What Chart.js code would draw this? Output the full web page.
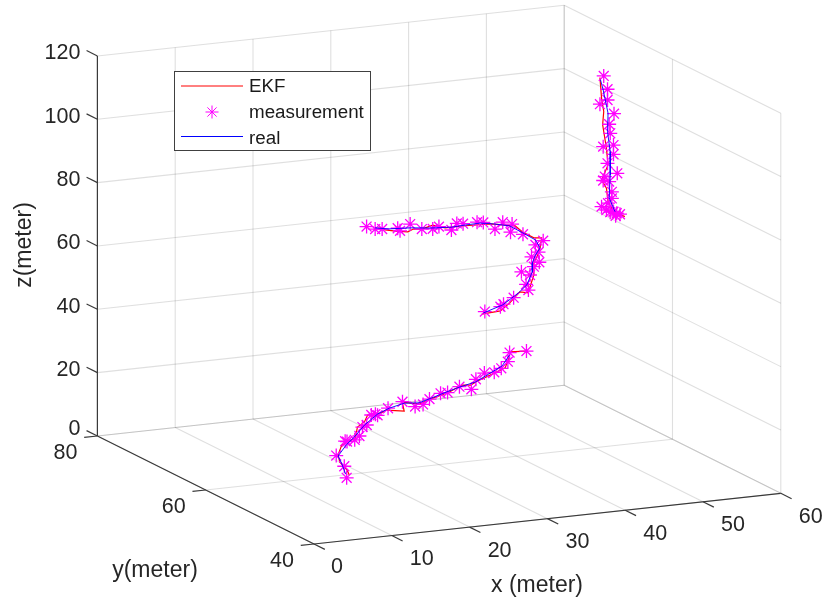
<!DOCTYPE html>
<html>
<head>
<meta charset="utf-8">
<title>EKF</title>
<style>
    html, body { margin: 0; padding: 0; background: #fff; }
    #wrap { width: 826px; height: 602px; }
    canvas { display: block; }
</style>
<script src="https://cdn.jsdelivr.net/npm/chart.js"></script>
</head>
<body>
<div id="wrap"><canvas id="myChart" width="826" height="602"></canvas></div>
<script>
const xTicks = [0, 10, 20, 30, 40, 50, 60];
const yTicks = [40, 60, 80];
const zTicks = [0, 20, 40, 60, 80, 100, 120];

// lower track, flat at one height
const lowerZ = 15;
const lowerStarX = [7.4, 9.6, 11.0, 15.0, 15.1, 16.3, 17.6, 19.8, 20.7, 23.3, 23.9, 23.9, 26.5, 29.4, 29.7, 31.0, 32.8, 35.2, 36.1, 38.6, 39.3, 41.9, 44.1, 45.3, 46.9, 49.0, 51.1, 53.2];
const lowerStarY = [44.6, 48.2, 51.7, 55.8, 55.6, 55.9, 56.9, 59.5, 60.0, 62.9, 63.0, 62.6, 64.4, 65.9, 64.0, 64.4, 65.8, 67.2, 67.2, 68.6, 67.4, 70.3, 71.9, 71.8, 72.8, 74.6, 77.3, 77.2];
const lowerRealX = [8.1, 10.0, 11.1, 14.3, 16.9, 20.5, 24.2, 26.7, 29.3, 30.9, 33.3, 36.1, 38.6, 41.3, 44.4, 47.5, 50.6];
const lowerRealY = [45.8, 49.3, 51.5, 54.6, 56.8, 60.1, 63.0, 64.4, 65.4, 65.0, 66.1, 67.4, 68.5, 69.5, 71.5, 73.5, 76.6];
const lowerEkfX = [8.3, 9.1, 10.0, 11.3, 13.8, 16.7, 19.3, 21.1, 22.9, 24.8, 25.9, 27.6, 29.3, 30.7, 33.4, 36.4, 39.2, 40.1, 41.7, 45.6, 47.4, 49.9, 51.3, 53.2];
const lowerEkfY = [45.4, 47.0, 49.6, 51.8, 54.7, 56.4, 59.7, 61.0, 63.0, 63.2, 63.9, 63.0, 65.8, 64.6, 66.0, 67.3, 69.0, 68.7, 69.7, 71.8, 72.8, 75.7, 77.5, 77.2];

// middle track, on the back wall
const middleY = 80;
const middleStarX = [34.6, 35.7, 36.6, 38.6, 38.9, 40.2, 41.7, 43.1, 43.9, 45.5, 46.2, 47.0, 48.8, 49.6, 51.1, 52.1, 53.3, 53.1, 54.7, 57.3, 56.3, 56.7, 55.8, 56.8, 56.1, 54.5, 55.6, 55.1, 55.4, 53.5, 52.2, 51.8, 49.8];
const middleStarZ = [56.9, 55.8, 55.6, 55.3, 54.4, 56.2, 54.2, 53.9, 54.4, 52.9, 54.8, 54.5, 54.5, 54.2, 51.7, 53.6, 52.7, 50.2, 49.1, 46.4, 45.3, 42.9, 41.7, 39.7, 38.5, 37.3, 36.0, 33.2, 31.3, 29.4, 27.7, 27.0, 26.0];
const middleRealX = [35.7, 37.4, 40.2, 43.0, 45.6, 47.3, 49.2, 50.9, 53.0, 54.7, 56.3, 56.9, 56.3, 55.9, 55.9, 55.2, 54.1, 52.1, 49.6];
const middleRealZ = [56.2, 55.4, 55.0, 54.2, 53.8, 54.0, 54.1, 53.4, 52.2, 49.5, 46.9, 44.2, 42.1, 39.7, 36.9, 33.0, 30.7, 27.5, 25.6];
const middleEkfX = [36.1, 37.0, 38.3, 39.9, 40.6, 41.7, 43.1, 44.7, 46.9, 50.5, 53.7, 54.6, 56.1, 57.1, 56.9, 56.5, 56.0, 56.1, 55.6, 55.4, 54.3, 53.0, 51.8, 49.4];
const middleEkfZ = [56.1, 55.2, 54.5, 53.8, 54.5, 54.2, 55.1, 53.8, 53.8, 53.5, 52.0, 49.9, 47.6, 47.3, 44.2, 41.5, 39.7, 35.9, 32.2, 30.4, 31.0, 27.9, 25.7, 25.3];

// right track, on the side wall
const rightX = 60;
const rightStarY = [72.7, 72.0, 72.0, 73.4, 70.8, 71.7, 71.5, 72.8, 70.9, 70.9, 72.0, 70.2, 72.5, 72.8, 71.7, 71.2, 71.2, 71.9, 73.1, 72.2, 70.9, 70.3, 69.7, 71.5, 70.5];
const rightStarZ = [103.9, 100.3, 96.9, 94.4, 93.6, 89.5, 86.8, 81.5, 83.6, 80.7, 76.9, 75.3, 72.3, 70.8, 71.4, 68.6, 66.5, 64.4, 62.3, 62.0, 62.6, 62.6, 62.8, 61.9, 61.6];
const rightRealY = [73.3, 72.8, 71.9, 72.0, 71.5, 71.5, 71.7, 70.6];
const rightRealZ = [102.2, 99.4, 92.8, 86.9, 81.0, 73.6, 66.2, 62.8];
const rightEkfY = [73.4, 73.1, 72.7, 72.9, 72.2, 71.9, 73.1, 72.2, 71.9, 70.9, 68.8];
const rightEkfZ = [102.8, 96.5, 92.7, 88.3, 81.5, 76.5, 70.7, 68.9, 64.9, 62.6, 62.8];

const legendNames = ["EKF", "measurement", "real"];

const gridColor = "rgba(38, 38, 38, 0.15)";
const axisColor = "#3a3a3a";
const textColor = "#262626";
const ekfColor = "#ff0000";
const realColor = "#0000ff";
const starColor = "#ff00ff";

// fixed view of the axes box, returns page position of a data point
function project(x, y, z) {
    return {
        x: 314 + 7.78 * x - 5.415 * (y - 40),
        y: 544 - 0.845 * x - 2.7 * (y - 40) - 3.167 * z,
    };
}

function lineSet(points, color, width, order) {
    return {
        data: points,
        showLine: true,
        borderColor: color,
        borderWidth: width,
        pointRadius: 0,
        tension: 0,
        clip: false,
        order: order,
    };
}

function starSet(points) {
    return {
        data: points,
        showLine: false,
        pointStyle: "star",
        pointRadius: 7,
        pointBorderColor: starColor,
        pointBorderWidth: 1.3,
        clip: false,
        order: 2,
    };
}

const datasets = [];

// grid
for (let x of xTicks) {
    datasets.push(lineSet([project(x, 40, 0), project(x, 80, 0)], gridColor, 1.1, 10));
    datasets.push(lineSet([project(x, 80, 0), project(x, 80, 120)], gridColor, 1.1, 10));
}
for (let y of yTicks) {
    datasets.push(lineSet([project(0, y, 0), project(60, y, 0)], gridColor, 1.1, 10));
    datasets.push(lineSet([project(60, y, 0), project(60, y, 120)], gridColor, 1.1, 10));
}
for (let z of zTicks) {
    datasets.push(lineSet([project(0, 80, z), project(60, 80, z)], gridColor, 1.1, 10));
    datasets.push(lineSet([project(60, 80, z), project(60, 40, z)], gridColor, 1.1, 10));
}

// axes and tick marks
datasets.push(lineSet([project(0, 40, 0), project(60, 40, 0)], axisColor, 1.2, 9));
datasets.push(lineSet([project(0, 40, 0), project(0, 80, 0)], axisColor, 1.2, 9));
datasets.push(lineSet([project(0, 80, 0), project(0, 80, 120)], axisColor, 1.2, 9));
for (let x of xTicks) {
    datasets.push(lineSet([project(x, 40, 0), project(x, 38, 0)], axisColor, 1.2, 9));
}
for (let y of yTicks) {
    datasets.push(lineSet([project(0, y, 0), project(-1.7, y, 0)], axisColor, 1.2, 9));
}
for (let z of zTicks) {
    datasets.push(lineSet([project(0, 80, z), project(0, 82, z)], axisColor, 1.2, 9));
}

// tracks
datasets.push(lineSet(lowerEkfX.map((x, i) => project(x, lowerEkfY[i], lowerZ)), ekfColor, 1.2, 3));
datasets.push(lineSet(middleEkfX.map((x, i) => project(x, middleY, middleEkfZ[i])), ekfColor, 1.2, 3));
datasets.push(lineSet(rightEkfY.map((y, i) => project(rightX, y, rightEkfZ[i])), ekfColor, 1.2, 3));
datasets.push(starSet(lowerStarX.map((x, i) => project(x, lowerStarY[i], lowerZ))));
datasets.push(starSet(middleStarX.map((x, i) => project(x, middleY, middleStarZ[i]))));
datasets.push(starSet(rightStarY.map((y, i) => project(rightX, y, rightStarZ[i]))));
datasets.push(lineSet(lowerRealX.map((x, i) => project(x, lowerRealY[i], lowerZ)), realColor, 0.9, 1));
datasets.push(lineSet(middleRealX.map((x, i) => project(x, middleY, middleRealZ[i])), realColor, 0.9, 1));
datasets.push(lineSet(rightRealY.map((y, i) => project(rightX, y, rightRealZ[i])), realColor, 0.9, 1));

const labelsPlugin = {
    id: "boxLabels",
    afterDraw(chart) {
        const ctx = chart.ctx;
        const sx = chart.scales.x;
        const sy = chart.scales.y;
        const at = (p) => ({ x: sx.getPixelForValue(p.x), y: sy.getPixelForValue(p.y) });

        ctx.save();
        ctx.fillStyle = textColor;
        ctx.textBaseline = "middle";
        ctx.font = '21.5px "Liberation Sans"';

        ctx.textAlign = "center";
        for (let x of xTicks) {
            const p = at(project(x, 40, 0));
            ctx.fillText(String(x), p.x + (x == 0 ? 23 : 30), p.y + 23.5);
        }
        for (let y of yTicks) {
            const p = at(project(0, y, 0));
            ctx.fillText(String(y), p.x - 32, p.y + 17);
        }
        ctx.textAlign = "right";
        for (let z of zTicks) {
            const p = at(project(0, 80, z));
            ctx.fillText(String(z), p.x - 17, p.y - (z == 0 ? 7 : 2.5));
        }

        ctx.font = '23px "Liberation Sans"';
        ctx.textAlign = "center";
        ctx.fillText("x (meter)", 537, 586);
        ctx.fillText("y(meter)", 155, 571);
        ctx.save();
        ctx.translate(25, 245);
        ctx.rotate(-Math.PI / 2);
        ctx.fillText("z(meter)", 0, 0);
        ctx.restore();

        // legend box
        ctx.fillStyle = "#ffffff";
        ctx.fillRect(174, 71, 197, 80);
        ctx.strokeStyle = "#404040";
        ctx.lineWidth = 1;
        ctx.strokeRect(174.5, 71.5, 196, 79);

        ctx.strokeStyle = ekfColor;
        ctx.beginPath();
        ctx.moveTo(181, 86);
        ctx.lineTo(243, 86);
        ctx.stroke();
        ctx.strokeStyle = realColor;
        ctx.beginPath();
        ctx.moveTo(181, 136.5);
        ctx.lineTo(243, 136.5);
        ctx.stroke();
        ctx.strokeStyle = starColor;
        Chart.helpers.drawPoint(ctx, { pointStyle: "star", radius: 6.5, rotation: 0, borderWidth: 1 }, 212, 112);

        ctx.fillStyle = "#1a1a1a";
        ctx.font = '18.8px "Liberation Sans"';
        ctx.textAlign = "left";
        ctx.fillText(legendNames[0], 249, 87);
        ctx.fillText(legendNames[1], 249, 113);
        ctx.fillText(legendNames[2], 249, 139);
        ctx.restore();
    },
};

new Chart(document.getElementById("myChart"), {
    type: "scatter",
    data: { datasets },
    options: {
        responsive: false,
        animation: false,
        layout: { padding: 0, autoPadding: false },
        plugins: {
            legend: { display: false },
            tooltip: { enabled: false },
        },
        scales: {
            x: { type: "linear", min: 0, max: 826, display: false },
            y: { type: "linear", min: 0, max: 602, reverse: true, display: false },
        },
    },
    plugins: [labelsPlugin],
});
</script>
</body>
</html>
